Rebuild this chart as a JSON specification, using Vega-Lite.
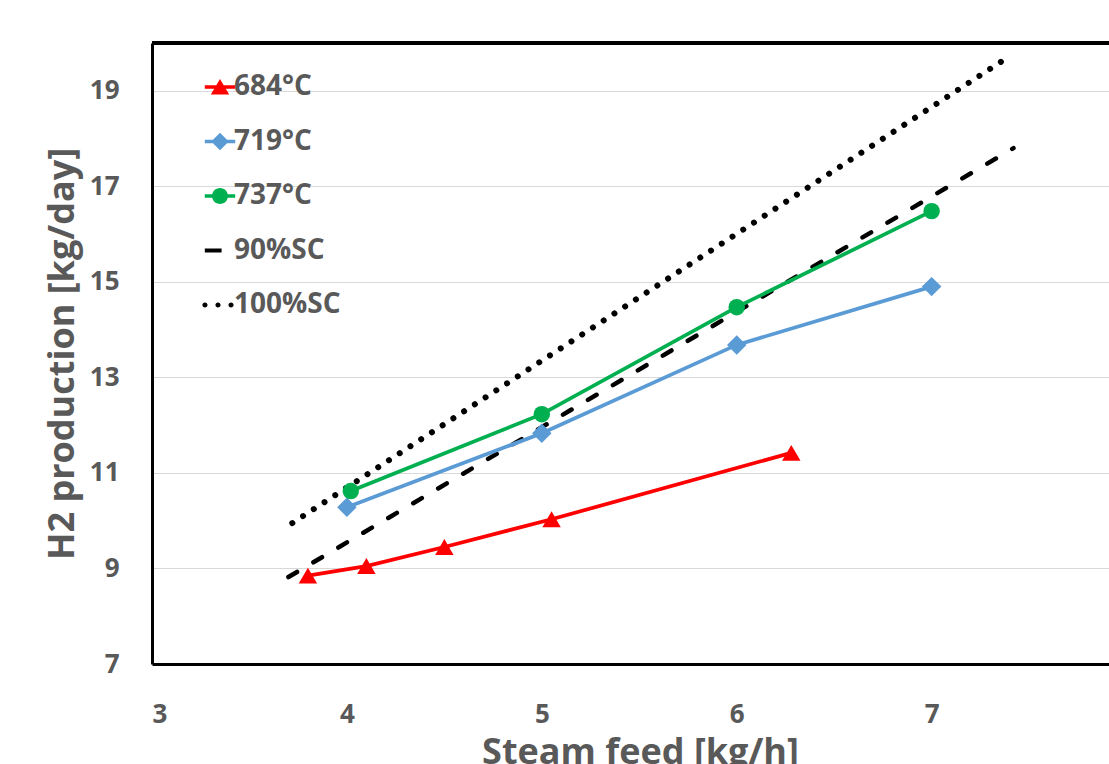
{
  "$schema": "https://vega.github.io/schema/vega-lite/v6.json",
  "autosize": {"type": "none"},
  "padding": {"left": 152, "top": 43, "right": 0, "bottom": 100},
  "width": 957,
  "height": 621,
  "background": "white",
  "config": {
    "view": {"stroke": null},
    "font": "Open Sans",
    "axis": {"labelFont": "Open Sans", "titleFont": "Open Sans", "labelFontWeight": "bold", "titleFontWeight": "bold", "labelColor": "#595959", "titleColor": "#595959"}
  },
  "data": {
    "values": [
      {"s": "684°C", "x": 3.8, "y": 8.85},
      {"s": "684°C", "x": 4.1, "y": 9.05},
      {"s": "684°C", "x": 4.5, "y": 9.45},
      {"s": "684°C", "x": 5.05, "y": 10.03},
      {"s": "684°C", "x": 6.28, "y": 11.42},
      {"s": "719°C", "x": 4.0, "y": 10.28},
      {"s": "719°C", "x": 5.0, "y": 11.83},
      {"s": "719°C", "x": 6.0, "y": 13.68},
      {"s": "719°C", "x": 7.0, "y": 14.9},
      {"s": "737°C", "x": 4.02, "y": 10.62},
      {"s": "737°C", "x": 5.0, "y": 12.23},
      {"s": "737°C", "x": 6.0, "y": 14.47},
      {"s": "737°C", "x": 7.0, "y": 16.48},
      {"s": "90%SC", "x": 3.7, "y": 8.82},
      {"s": "90%SC", "x": 7.42, "y": 17.8},
      {"s": "100%SC", "x": 3.72, "y": 9.95},
      {"s": "100%SC", "x": 7.41, "y": 19.75}
    ]
  },
  "encoding": {
    "x": {"field": "x", "type": "quantitative", "scale": {"domain": [3, 7.91], "nice": false, "zero": false},
      "axis": {"values": [3, 4, 5, 6, 7], "format": "d", "grid": false, "ticks": false, "domainColor": "black", "domainWidth": 3, "labelFontSize": 26, "labelPadding": 37, "title": "Steam feed [kg/h]", "titleFontSize": 36, "titlePadding": 8, "titleX": 488}},
    "y": {"field": "y", "type": "quantitative", "scale": {"domain": [7, 20], "nice": false, "zero": false},
      "axis": {"values": [7, 9, 11, 13, 15, 17, 19], "grid": true, "gridColor": "#d9d9d9", "gridWidth": 1, "ticks": false, "domainColor": "black", "domainWidth": 3, "labelFontSize": 26, "labelPadding": 33, "title": "H2 production [kg/day]", "titleFontSize": 36, "titlePadding": 8}},
    "color": {"field": "s", "type": "nominal",
      "scale": {"domain": ["684°C", "719°C", "737°C", "90%SC", "100%SC"], "range": ["#ff0000", "#5b9bd5", "#00b050", "#000000", "#000000"]},
      "legend": {"title": null, "orient": "none", "legendX": 54, "legendY": 30, "padding": 0, "labelFont": "Open Sans", "labelFontSize": 28, "labelFontWeight": "bold", "labelColor": "#595959", "symbolSize": 256, "symbolStrokeWidth": 0, "symbolOpacity": 1, "rowPadding": 26.5, "labelOffset": 0}}
  },
  "layer": [
    {
      "mark": {"type": "rule", "color": "black", "strokeWidth": 3},
      "encoding": {"x": null, "color": null, "y": {"datum": 20, "type": "quantitative"}}
    },
    {
      "transform": [{"filter": "datum.s === '90%SC'"}],
      "mark": {"type": "line", "strokeWidth": 4.5, "strokeCap": "round", "strokeDash": [10, 19]},
      "encoding": {}
    },
    {
      "transform": [{"filter": "datum.s === '100%SC'"}],
      "mark": {"type": "line", "strokeWidth": 6, "strokeCap": "round", "strokeDash": [0.01, 12.8]},
      "encoding": {}
    },
    {
      "transform": [{"filter": "indexof(['684°C','719°C','737°C'], datum.s) >= 0"}],
      "mark": {"type": "line", "strokeWidth": 3.75},
      "encoding": {}
    },
    {
      "transform": [{"filter": "datum.s === '684°C'"}],
      "mark": {"type": "point", "shape": "triangle-up", "filled": true, "opacity": 1, "size": 340},
      "encoding": {}
    },
    {
      "transform": [{"filter": "datum.s === '719°C'"}],
      "mark": {"type": "point", "shape": "diamond", "filled": true, "opacity": 1, "size": 380},
      "encoding": {}
    },
    {
      "transform": [{"filter": "datum.s === '737°C'"}],
      "mark": {"type": "point", "shape": "circle", "filled": true, "opacity": 1, "size": 270},
      "encoding": {}
    },
    {
      "transform": [{"filter": "datum.x > 100"}],
      "mark": {"type": "point", "filled": true, "opacity": 1, "strokeWidth": 0},
      "encoding": {
        "shape": {"field": "s", "type": "nominal",
          "scale": {"domain": ["684°C", "719°C", "737°C", "90%SC", "100%SC"],
            "range": [
              "M-1.9,-0.22H1.9V0.22H-1.9Z M0,-1L1.15,0.95H-1.15Z",
              "M-1.9,-0.22H1.9V0.22H-1.9Z M0,-1.1L1.1,0L0,1.1L-1.1,0Z",
              "M-1.9,-0.22H1.9V0.22H-1.9Z M-1,0A1,1 0 1 1 1,0A1,1 0 1 1 -1,0Z",
              "M-1.9,-0.25H0.2V0.25H-1.9Z",
              "M-2.2,0A0.32,0.32 0 1 1 -1.56,0A0.32,0.32 0 1 1 -2.2,0Z M-0.57,0A0.32,0.32 0 1 1 0.07,0A0.32,0.32 0 1 1 -0.57,0Z M1.06,0A0.32,0.32 0 1 1 1.7,0A0.32,0.32 0 1 1 1.06,0Z"
            ]},
          "legend": {"title": null, "orient": "none", "legendX": 54, "legendY": 30, "padding": 0, "labelFont": "Open Sans", "labelFontSize": 28, "labelFontWeight": "bold", "labelColor": "#595959", "symbolSize": 256, "symbolStrokeWidth": 0, "symbolOpacity": 1, "rowPadding": 26.5, "labelOffset": 0}
        }
      }
    }
  ]
}
